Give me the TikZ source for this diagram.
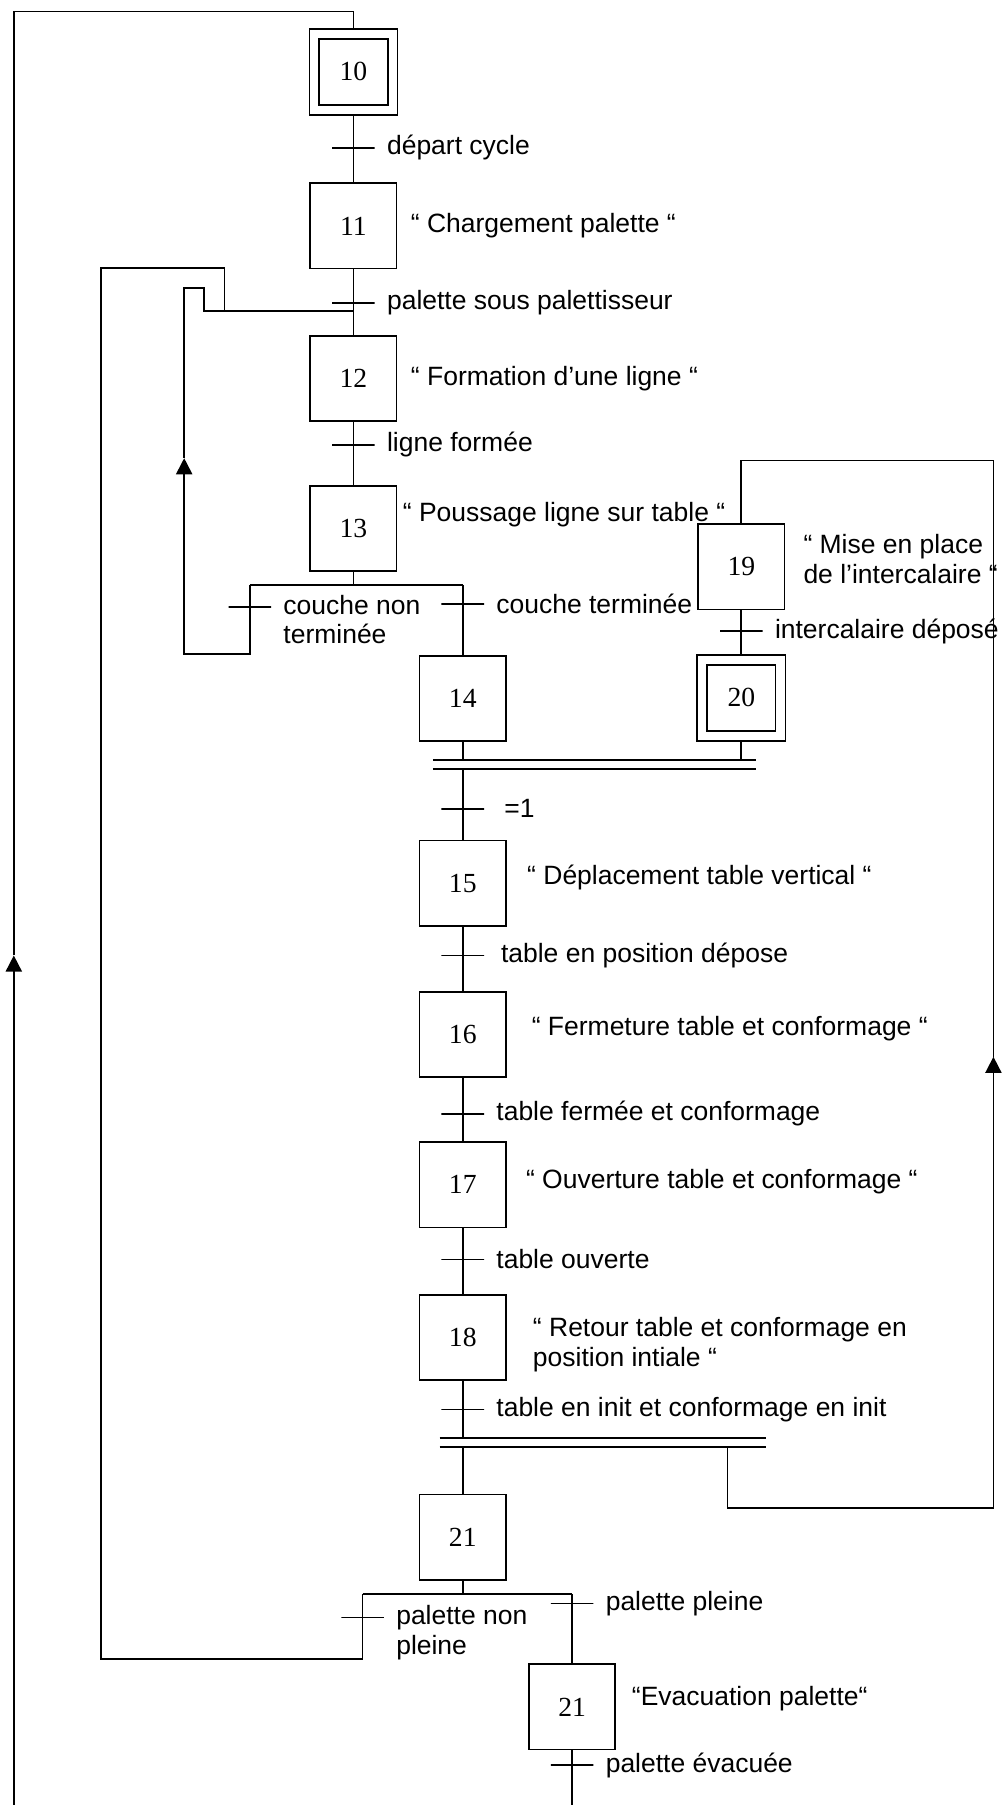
\documentclass[tikz,border=0pt]{standalone}
\usepackage{fontspec}
\setmainfont{Liberation Sans}
\newfontfamily\numfont{Liberation Serif}
\usetikzlibrary{positioning,arrows.meta}

\begin{document}
\begin{tikzpicture}[x=1pt,y=-1pt,line width=1.5pt,font=\fontsize{23}{26}\selectfont,
    every label/.style={inner sep=0pt},label distance=10pt,
    etape/.style={rectangle,draw,minimum width=75pt,minimum height=74pt,inner sep=0pt,font=\numfont\fontsize{24}{24}\selectfont},
    etapeinit/.style={etape,double,double distance=7pt,minimum width=68pt,minimum height=66pt,outer sep=5pt},
    trans/.style={rectangle,draw,minimum width=37pt,minimum height=0pt,inner sep=0pt,outer sep=0pt},
    comment/.style={inner sep=0pt,align=left},
    barre/.style={line width=1.9pt},
    retour/.style={-{Triangle[length=14pt,width=14pt]}}]
    \useasboundingbox (0,0) rectangle (870,1568);
    \node [etapeinit] (s10) at (307,62.5) {10};
    \node [trans,below=28pt of s10,label=right:départ cycle] (t10) {};
    \node [etape,below=58pt of s10] (s11) {11};
    \node [comment,right=11pt of s11] (c11) {“ Chargement palette “};
    \node [trans,below=29pt of s11,label=right:palette sous palettisseur] (t11) {};
    \node [etape,below=57pt of s11] (s12) {12};
    \node [comment,right=11pt of s12] (c12) {“ Formation d’une ligne “};
    \node [trans,below=20pt of s12,label=right:ligne formée] (t12) {};
    \node [etape,below=55pt of s12] (s13) {13};
    \node [comment,right=4pt of s13,yshift=12pt] (c13) {“ Poussage ligne sur table “};
    \coordinate (or13) at (307,508);
    \node [trans,label distance=3pt,label={[align=left,anchor=north west,yshift=11pt]right:couche non\\terminée}] (t13a) at (217,527) {};
    \node [trans,label distance=4pt,label=right:couche terminée] (t13b) at (402,525) {};
    \node [etape,below=72pt of s13,xshift=95pt] (s14) {14};
    \node [etape] (s19) at (644,492.5) {19};
    \node [comment,right=15pt of s19,yshift=7pt] (c19) {“ Mise en place\\de l’intercalaire “};
    \node [trans,below=18pt of s19,label=right:intercalaire déposé] (t19) {};
    \node [etapeinit,below=38pt of s19] (s20) {20};
    \coordinate (et1h) at (376,660); \coordinate (et1hr) at (657,660);
    \coordinate (et1b) at (376,668); \coordinate (et1br) at (657,668);
    \node [trans,below=58pt of s14,label={[xshift=7pt]right:=1}] (t14) {};
    \node [etape,below=85pt of s14] (s15) {15};
    \node [comment,right=17pt of s15,yshift=5pt] (c15) {“ Déplacement table vertical “};
    \node [trans,below=25pt of s15,label={[xshift=4pt]right:table en position dépose}] (t15) {};
    \node [etape,below=56pt of s15] (s16) {16};
    \node [comment,right=21pt of s16,yshift=5pt] (c16) {“ Fermeture table et conformage “};
    \node [trans,below=31pt of s16,label=right:table fermée et conformage] (t16) {};
    \node [etape,below=55pt of s16] (s17) {17};
    \node [comment,right=16pt of s17,yshift=3pt] (c17) {“ Ouverture table et conformage “};
    \node [trans,below=27pt of s17,label=right:table ouverte] (t17) {};
    \node [etape,below=57pt of s17] (s18) {18};
    \node [comment,right=22pt of s18,yshift=-6pt] (c18) {“ Retour table et conformage en\\position intiale “};
    \node [trans,below=25pt of s18,label=right:table en init et conformage en init] (t18) {};
    \coordinate (et2h) at (382,1249); \coordinate (et2hr) at (665,1249);
    \coordinate (et2b) at (382,1257); \coordinate (et2br) at (665,1257);
    \node [etape,below=98pt of s18] (s21) {21};
    \coordinate (or21) at (402,1385);
    \node [trans,label distance=3pt,label={[align=left,anchor=north west,yshift=11pt]right:palette non\\pleine}] (t21a) at (315,1405) {};
    \node [trans,label=right:palette pleine] (t21b) at (497,1393) {};
    \node [etape,below=72pt of s21,xshift=95pt] (s22) {21};
    \node [comment,right=13pt of s22,yshift=7pt] (c22) {“Evacuation palette“};
    \node [trans,below=13pt of s22,label=right:palette évacuée] (t22) {};
    \coordinate (fin) at (497,1568);
    \coordinate (deb) at (12,1568); \coordinate (fl0) at (12,830);
    \coordinate (h1) at (12,10); \coordinate (h2) at (307,10);
    \coordinate (b13) at (217,568); \coordinate (k1) at (160,568); \coordinate (fl1) at (160,398);
    \coordinate (k2) at (160,250); \coordinate (k3) at (177,250); \coordinate (k4) at (177,270); \coordinate (j12) at (307,270);
    \coordinate (b21) at (315,1441); \coordinate (m1) at (88,1441); \coordinate (m2) at (88,233);
    \coordinate (m3) at (195,233); \coordinate (m4) at (195,270);
    \coordinate (r1) at (632,1257); \coordinate (r2) at (632,1310); \coordinate (r3) at (863,1310);
    \coordinate (fl2) at (863,918); \coordinate (r4) at (863,400);
    \draw (s10) -- (t10) -- (s11) -- (t11) -- (s12) -- (t12) -- (s13) -- (or13);
    \draw (t13a |- or13) -- (s14 |- or13);
    \draw [retour] (t13a |- or13) -- (t13a) -- (b13) -- (k1) -- (fl1);
    \draw (fl1) -- (k2) -- (k3) -- (k4) -- (j12);
    \draw (s14 |- or13) -- (t13b) -- (s14);
    \draw (s19) -- (t19) -- (s20);
    \draw (s14) -- (s14 |- et1h);
    \draw (s20) -- (s20 |- et1h);
    \draw [barre] (et1h) -- (et1hr);
    \draw [barre] (et1b) -- (et1br);
    \draw (s14 |- et1b) -- (t14) -- (s15) -- (t15) -- (s16) -- (t16) -- (s17) -- (t17) -- (s18) -- (t18) -- (s18 |- et2h);
    \draw [barre] (et2h) -- (et2hr);
    \draw [barre] (et2b) -- (et2br);
    \draw (s21 |- et2b) -- (s21);
    \draw (s21) -- (or21);
    \draw (t21a |- or21) -- (s22 |- or21);
    \draw (t21a |- or21) -- (t21a) -- (b21) -- (m1) -- (m2) -- (m3) -- (m4);
    \draw (s22 |- or21) -- (t21b) -- (s22) -- (t22) -- (fin);
    \draw [retour] (deb) -- (fl0);
    \draw (fl0) -- (h1) -- (h2) -- (s10);
    \draw [retour] (r1) -- (r2) -- (r3) -- (fl2);
    \draw (fl2) -- (r4) -| (s19);
\end{tikzpicture}
\end{document}
